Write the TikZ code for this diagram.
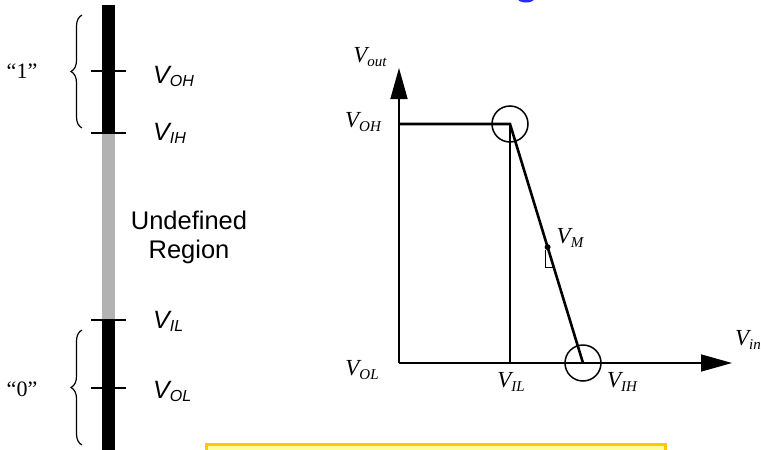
\documentclass[tikz,border=0pt]{standalone}
\usepackage{fontspec}
\setmainfont{Liberation Serif}
\newfontfamily\labsans{Liberation Sans}
\usetikzlibrary{arrows.meta,positioning,decorations.pathreplacing,calc}
\definecolor{barblack}{HTML}{000000}
\definecolor{bargray}{HTML}{B2B2B2}
\definecolor{notegold}{HTML}{FFC800}
\definecolor{notefill}{HTML}{FFFF99}
\definecolor{titleblue}{HTML}{2A2AF5}
\newcommand{\slab}[1]{{\labsans\itshape\fontsize{25}{25}\selectfont V\raisebox{-3pt}{\fontsize{16}{16}\selectfont #1}}}
\newcommand{\vlab}[1]{{\itshape\fontsize{23}{23}\selectfont V\raisebox{-4pt}{\fontsize{15}{15}\selectfont #1}}}
\tikzset{
  axisline/.style={-{Triangle[length=31pt,width=17pt]},line width=1.6pt},
  guideline/.style={line width=1.6pt},
  curveline/.style={line width=2.6pt},
  tickline/.style={line width=2pt},
  markring/.style={circle,draw,line width=1.5pt,minimum size=36pt,inner sep=0pt},
  sanslab/.style={anchor=base west,inner sep=0pt},
  seriflab/.style={inner sep=0pt},
  levelbrace/.style={decorate,decoration={brace,amplitude=11pt},line width=1.2pt}
}
\begin{document}
\begin{tikzpicture}[x=1pt,y=-1pt]
  \path[use as bounding box,clip] (0,0) rectangle (761,450);
  % logic level bar
  \fill[barblack] (102,5) rectangle (115,133);
  \fill[bargray] (102,133) rectangle (115,320);
  \fill[barblack] (102,320) rectangle (115,455);
  \foreach \y in {71,133,320,388}
    \draw[tickline] (91,\y) -- (126,\y);
  \node[sanslab] (voh) at (153,83) {\slab{OH}};
  \node[sanslab] (vih) at (153,140) {\slab{IH}};
  \node[sanslab] (vil) at (153,328) {\slab{IL}};
  \node[sanslab] (vol) at (153,398) {\slab{OL}};
  \node[align=center,inner sep=0pt,font=\labsans\fontsize{25.5}{29}\selectfont] (undef) at (189,237) {Undefined\\Region};
  \node[inner sep=0pt,font=\fontsize{22}{22}\selectfont] (one) at (22,71) {“1”};
  \node[inner sep=0pt,font=\fontsize{22}{22}\selectfont] (zero) at (22,389) {“0”};
  \draw[levelbrace] (82,128) -- (82,15);
  \draw[levelbrace] (82,445) -- (82,330);

  % transfer characteristic
  \coordinate (origin) at (399,363);
  \coordinate (ytop) at (399,68);
  \coordinate (xend) at (732,363);
  \coordinate (ohstart) at (399,124);
  \coordinate (knee) at (510,124);
  \coordinate (ilfoot) at (510,363);
  \coordinate (floor) at (583,363);
  \draw[axisline] (origin) -- (ytop);
  \draw[axisline] (origin) -- (xend);
  \draw[guideline] (knee) -- (ilfoot);
  \draw[curveline] (ohstart) -- (knee) -- (floor);
  \node[markring] (ringhigh) at (knee) {};
  \node[markring] (ringlow) at (floor) {};
  \coordinate (mid) at ($(knee)!0.515!(floor)$);
  \fill (mid) circle (3pt);
  \draw[line width=1.2pt] ($(mid)+(-2,3)$) |- ($(knee)!0.6!(floor)$);
  \node[seriflab] (vout) at (370,57) {\vlab{out}};
  \node[seriflab] (vohr) at (363,122) {\vlab{OH}};
  \node[seriflab] (volr) at (362,370) {\vlab{OL}};
  \node[seriflab] (vilr) at (511,382) {\vlab{IL}};
  \node[seriflab] (vihr) at (622,382) {\vlab{IH}};
  \node[seriflab] (vm) at (570,238) {\vlab{M}};
  \node[seriflab] (vin) at (748,340) {\vlab{in}};

  % cut-off title and note box
  \fill[titleblue] (526,-1) ellipse (8 and 3.5);
  \draw[line width=3pt,draw=notegold,fill=notefill] (206,444) rectangle (665,470);
\end{tikzpicture}
\end{document}
